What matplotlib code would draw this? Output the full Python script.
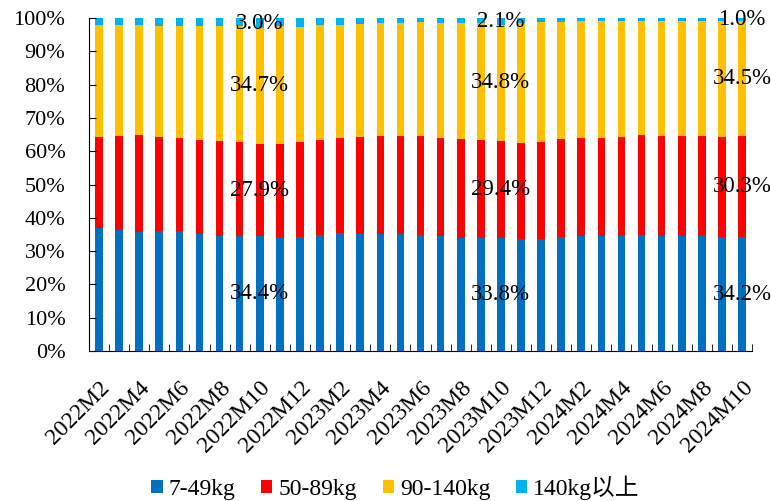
import numpy as np
import matplotlib
matplotlib.use("Agg")
import matplotlib.pyplot as plt

plt.rcParams['font.family'] = ['Liberation Serif', 'Noto Sans CJK SC']

months = []
for y in (2022, 2023, 2024):
    for m in range(1, 13):
        if (y == 2022 and m < 2) or (y == 2024 and m > 10):
            continue
        months.append("%dM%d" % (y, m))

series_names = ["7-49kg", "50-89kg", "90-140kg", "140kg以上"]
colors = ["#0070C0", "#FF0000", "#FFC000", "#00B0F0"]

w_7_49 = [37.0, 36.4, 35.8, 36.0, 36.0, 35.1, 34.6, 34.6, 34.4, 34.2, 34.3,
          34.7, 35.3, 35.2, 35.2, 35.2, 34.9, 34.6, 34.0, 34.0, 33.8, 33.5,
          33.7, 34.3, 34.6, 34.6, 34.6, 34.8, 34.6, 34.4, 34.6, 34.1, 34.2]
w_50_89 = [27.3, 28.2, 29.0, 28.4, 28.0, 28.3, 28.4, 28.1, 27.9, 27.9, 28.4,
           28.6, 28.8, 29.1, 29.3, 29.3, 29.6, 29.4, 29.7, 29.4, 29.4, 29.0,
           29.1, 29.4, 29.4, 29.4, 29.7, 30.1, 30.0, 30.2, 30.0, 30.2, 30.3]
w_90_140 = [33.5, 33.2, 33.0, 33.3, 33.7, 34.3, 34.7, 34.9, 34.7, 35.4, 34.7,
            34.5, 33.9, 33.9, 33.9, 34.1, 34.3, 34.6, 34.7, 35.0, 34.8, 36.1,
            35.9, 35.1, 35.0, 35.0, 34.8, 34.2, 34.5, 34.5, 34.5, 34.7, 34.5]
w_140_up = [2.2, 2.2, 2.2, 2.3, 2.3, 2.3, 2.3, 2.4, 3.0, 2.5, 2.6,
            2.2, 2.0, 1.8, 1.6, 1.4, 1.2, 1.4, 1.6, 1.6, 2.1, 1.4,
            1.3, 1.2, 1.0, 1.0, 0.9, 0.9, 0.9, 0.9, 0.9, 1.0, 1.0]

label_months = ["2022M10", "2023M10", "2024M10"]


def main():
    fig = plt.figure(figsize=(7.71, 5.01), dpi=100)
    ax = fig.add_axes([0.1154, 0.2994, 0.86, 0.6646])

    x = np.arange(len(months))
    data = [w_7_49, w_50_89, w_90_140, w_140_up]
    bottom = np.zeros(len(months))
    bars = []
    for vals, name, c in zip(data, series_names, colors):
        vals = np.array(vals)
        b = ax.bar(x, vals, 0.38, bottom=bottom, color=c, label=name)
        bars.append(b)
        for lm in label_months:
            i = months.index(lm)
            ax.text(i, bottom[i] + vals[i] / 2, "%.1f%%" % vals[i],
                    ha="center", va="center", fontsize=16.5, color="black")
        bottom = bottom + vals

    ax.set_xlim(-0.5, len(months) - 0.5)
    ax.set_ylim(0, 100)
    ax.set_yticks(np.arange(0, 101, 10))
    ax.set_yticklabels(["%d%%" % v for v in range(0, 101, 10)], fontsize=16)
    ax.tick_params(axis="y", direction="in", length=5, pad=17)

    ax.set_xticks(x[::2])
    ax.set_xticklabels(months[::2], rotation=45, ha="right",
                       rotation_mode="anchor", fontsize=17)
    ax.set_xticks(np.arange(-0.5, len(months)), minor=True)
    ax.tick_params(axis="x", which="major", length=0, pad=19)
    ax.tick_params(axis="x", which="minor", direction="in", length=5)

    for s in ("top", "right"):
        ax.spines[s].set_visible(False)

    fig.legend(handles=bars, labels=series_names, loc="center",
               bbox_to_anchor=(0.513, 1 - 488 / 501), ncol=4, frameon=False,
               fontsize=17, handlelength=0.47, handleheight=0.47,
               handletextpad=0.25, columnspacing=1.1)

    fig.savefig("out.png", dpi=100)


if __name__ == "__main__":
    main()
